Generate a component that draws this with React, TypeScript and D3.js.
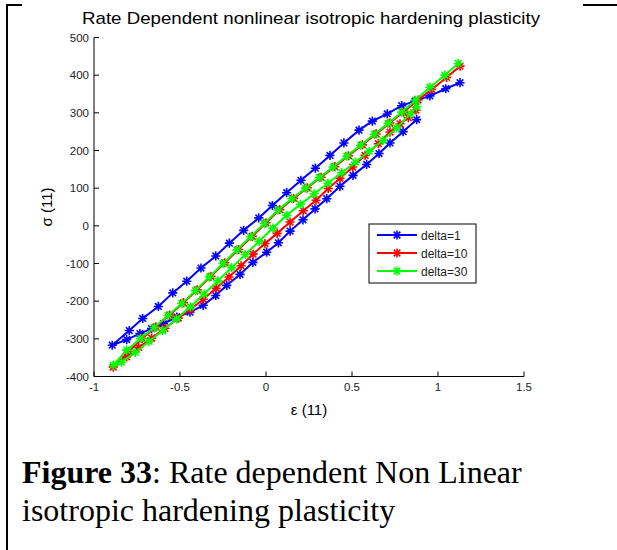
import React from 'react';
import * as d3 from 'd3';

const xTicks = [-1, -0.5, 0, 0.5, 1, 1.5];
const yTicks = [-400, -300, -200, -100, 0, 100, 200, 300, 400, 500];
const seriesNames = ['delta=1', 'delta=10', 'delta=30'];
const seriesColors = ['#0000ff', '#ff0000', '#00ff00'];

const strainDelta1 = [0.876, 0.797, 0.721, 0.657, 0.585, 0.506, 0.43, 0.353, 0.285, 0.215, 0.14, 0.072, 0.004, -0.076, -0.151, -0.228, -0.292, -0.365, -0.442, -0.519, -0.597, -0.665, -0.733, -0.81, -0.894,
  -0.795, -0.717, -0.626, -0.542, -0.461, -0.378, -0.292, -0.213, -0.13, -0.042, 0.037, 0.12, 0.203, 0.287, 0.372, 0.453, 0.541, 0.618, 0.705, 0.789, 0.866, 0.953, 1.045, 1.128];
const stressDelta1 = [282, 250, 220, 192, 163, 134, 105, 72, 45, 16, -14, -45, -70, -97, -129, -158, -185, -211, -229, -242, -260, -273, -286, -302, -317,
  -278, -246, -214, -178, -147, -112, -80, -46, -12, 21, 54, 88, 121, 153, 187, 220, 254, 278, 297, 319, 331, 345, 364, 380];

const strainDelta10 = [0.872, 0.827, 0.779, 0.721, 0.653, 0.576, 0.504, 0.43, 0.362, 0.291, 0.217, 0.14, 0.065, -0.006, -0.075, -0.145, -0.215, -0.29, -0.365, -0.44, -0.51, -0.587, -0.665, -0.74, -0.81, -0.888,
  -0.8, -0.72, -0.64, -0.56, -0.48, -0.4, -0.32, -0.24, -0.16, -0.08, 0.0, 0.08, 0.16, 0.24, 0.32, 0.4, 0.48, 0.56, 0.64, 0.72, 0.8, 0.884, 0.963, 1.05, 1.128];
const stressDelta10 = [307, 287, 271, 249, 218, 187, 156, 126, 99, 68, 40, 10, -20, -47, -75, -106, -136, -166, -195, -222, -245, -272, -298, -323, -348, -375,
  -335, -299, -268, -237, -204, -170, -134, -98, -63, -28, 8, 43, 73, 101, 129, 157, 186, 215, 244, 273, 302, 334, 362, 394, 424];

const strainDelta30 = [0.876, 0.84, 0.76, 0.68, 0.6, 0.52, 0.44, 0.36, 0.28, 0.2, 0.12, 0.04, -0.04, -0.12, -0.2, -0.28, -0.36, -0.44, -0.52, -0.6, -0.68, -0.76, -0.84, -0.888,
  -0.81, -0.73, -0.65, -0.57, -0.49, -0.41, -0.33, -0.25, -0.17, -0.09, -0.01, 0.07, 0.15, 0.23, 0.31, 0.39, 0.47, 0.55, 0.63, 0.71, 0.79, 0.87, 0.953, 1.04, 1.117];
const stressDelta30 = [316, 298, 260, 227, 198, 169, 141, 113, 85, 57, 28, -6, -41, -76, -111, -146, -181, -215, -247, -278, -307, -336, -362, -370,
  -330, -299, -270, -238, -206, -172, -136, -100, -64, -29, 6, 42, 72, 100, 128, 156, 185, 214, 243, 272, 302, 334, 368, 400, 431];

const seriesStrain = [strainDelta1, strainDelta10, strainDelta30];
const seriesStress = [stressDelta1, stressDelta10, stressDelta30];

const star = (s: number) => {
  const a = s * 0.72;
  return `M${-s},0L${s},0M0,${-s}L0,${s}M${-a},${-a}L${a},${a}M${-a},${a}L${a},${-a}`;
};

export default function App() {
  const x = d3.scaleLinear().domain([-1, 1.5]).range([94, 524]);
  const y = d3.scaleLinear().domain([-400, 500]).range([376.5, 37.5]);
  const line = d3.line<[number, number]>().x(d => x(d[0])).y(d => y(d[1]));
  const tickFont = '"Liberation Sans", Arial, sans-serif';
  const markerPath = star(4.6);
  const legendX = 369, legendY = 224, legendW = 107, legendH = 59;
  const serif = '"Liberation Serif", "Times New Roman", serif';

  return (
    <svg width={617} height={550} style={{ position: 'absolute', left: 0, top: 0, background: '#fff' }}>
      <rect x={0} y={0} width={617} height={550} fill="#fff" />
      {/* document frame */}
      <line x1={7} y1={4} x2={7} y2={550} stroke="#000" strokeWidth={2} />
      <line x1={6} y1={5} x2={22} y2={5} stroke="#000" strokeWidth={2} />
      <line x1={583} y1={5} x2={617} y2={5} stroke="#000" strokeWidth={2} />

      <text x={82} y={24} textLength={458} lengthAdjust="spacingAndGlyphs" fontFamily={tickFont} fontSize={17} fill="#000">
        Rate Dependent nonlinear isotropic hardening plasticity
      </text>

      {/* axes */}
      <line x1={x(-1)} y1={y(-400)} x2={x(-1)} y2={y(500)} stroke="#000" strokeWidth={1} />
      <line x1={x(-1)} y1={y(-400)} x2={x(1.5)} y2={y(-400)} stroke="#000" strokeWidth={1} />
      {xTicks.map(t => (
        <g key={'x' + t}>
          <line x1={x(t)} x2={x(t)} y1={y(-400)} y2={y(-400) - 5} stroke="#000" />
          <text x={x(t)} y={y(-400) + 14} textAnchor="middle" fontFamily={tickFont} fontSize={11.5} fill="#222">{String(t)}</text>
        </g>
      ))}
      {yTicks.map(t => (
        <g key={'y' + t}>
          <line x1={x(-1)} x2={x(-1) + 5} y1={y(t)} y2={y(t)} stroke="#000" />
          <text x={x(-1) - 5} y={y(t) + 4} textAnchor="end" fontFamily={tickFont} fontSize={11.5} fill="#222">{String(t)}</text>
        </g>
      ))}
      <text x={309} y={415} textAnchor="middle" fontFamily={tickFont} fontSize={15} fill="#000">ε (11)</text>
      <text transform="translate(52,207) rotate(-90)" textAnchor="middle" fontFamily={tickFont} fontSize={15} fill="#000">σ (11)</text>

      {/* series */}
      {seriesStrain.map((xs, i) => {
        const pts: [number, number][] = xs.map((v, j) => [v, seriesStress[i][j]]);
        return (
          <g key={'s' + i}>
            <path d={line(pts) || ''} fill="none" stroke={seriesColors[i]} strokeWidth={2} />
            {pts.map((p, j) => (
              <path key={j} d={markerPath} transform={`translate(${x(p[0])},${y(p[1])})`} stroke={seriesColors[i]} strokeWidth={1.6} fill="none" />
            ))}
          </g>
        );
      })}

      {/* legend */}
      <rect x={legendX} y={legendY} width={legendW} height={legendH} fill="#fff" stroke="#000" strokeWidth={1} />
      {seriesNames.map((n, i) => {
        const ly = legendY + 11 + i * 18;
        return (
          <g key={'l' + i}>
            <line x1={legendX + 8} x2={legendX + 48} y1={ly} y2={ly} stroke={seriesColors[i]} strokeWidth={2} />
            <path d={markerPath} transform={`translate(${legendX + 28},${ly})`} stroke={seriesColors[i]} strokeWidth={1.6} fill="none" />
            <text x={legendX + 52} y={ly + 4.5} fontFamily={tickFont} fontSize={12} fill="#222">{n}</text>
          </g>
        );
      })}

      {/* caption */}
      <text x={22} y={483} fontFamily={serif} fontSize={32} fill="#000">
        <tspan fontWeight="bold">Figure 33</tspan>: Rate dependent Non Linear
      </text>
      <text x={22} y={521} fontFamily={serif} fontSize={32} fill="#000">
        isotropic hardening plasticity
      </text>
    </svg>
  );
}
